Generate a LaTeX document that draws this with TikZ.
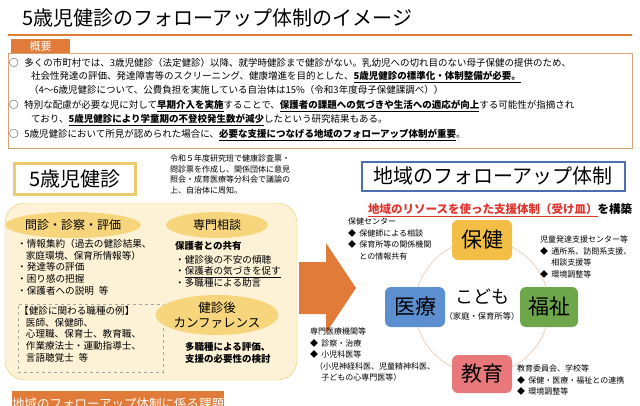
\documentclass[tikz,border=0pt]{standalone}
\usepackage{fontspec}
\setmainfont{Noto Sans CJK JP}
\usetikzlibrary{shapes,positioning}
\definecolor{daidai}{HTML}{E07B39}
\definecolor{waku}{HTML}{D9A070}
\definecolor{kiwaku}{HTML}{EBCB6E}
\definecolor{kiiro}{HTML}{FDF2D6}
\definecolor{daen}{HTML}{F6D57C}
\definecolor{aowaku}{HTML}{4F6EB0}
\definecolor{aka}{HTML}{E0342E}
\definecolor{hokeniro}{HTML}{F3BE45}
\definecolor{iryoiro}{HTML}{5B8FCF}
\definecolor{fukushiiro}{HTML}{6EA64B}
\definecolor{kyoikuiro}{HTML}{E9787A}
\definecolor{wairo}{HTML}{E6CDB8}
\tikzset{
    gaiyo/.style={anchor=west,inner sep=0pt,font=\fontsize{9.5}{11}\selectfont},
    chui/.style={anchor=north west,inner sep=0pt,align=left,font=\fontsize{9.6}{11.7}\selectfont},
    shou/.style={anchor=north west,inner sep=0pt,align=left,font=\fontsize{8}{11.5}\selectfont},
    oval/.style={ellipse,fill=daen,inner sep=0pt,font=\fontsize{12}{14}\selectfont},
    bunya/.style={rounded corners=6,minimum width=60,minimum height=40,inner sep=0pt,font=\fontsize{21}{24}\selectfont},
    midashi/.style={fill=daidai,text=white,inner sep=0pt}
}
\begin{document}
\begin{tikzpicture}[x=1pt,y=-1pt]
    \useasboundingbox[fill=white] (0,0) rectangle (640,405);

    \node[anchor=west,inner sep=0pt,font=\fontsize{20}{22}\selectfont] (title) at (22,18) {5歳児健診のフォローアップ体制のイメージ};
    \draw[daidai,line width=1.5] (8,35) -- (632,35);
    \node[midashi,minimum width=59,minimum height=14,font=\fontsize{11}{12}\selectfont] (gaiyotab) at (40.5,46) {概要};
    \draw[waku,line width=0.8] (8,53) rectangle (632,148);

    \node[gaiyo] (g1) at (9,63) {○\hspace{0.6em}多くの市町村では、3歳児健診（法定健診）以降、就学時健診まで健診がない。乳幼児への切れ目のない母子保健の提供のため、};
    \node[gaiyo] (g2) at (31,77) {社会性発達の評価、発達障害等のスクリーニング、健康増進を目的とした、\textbf{\underline{5歳児健診の標準化・体制整備が必要。}}};
    \node[gaiyo] (g3) at (29,90) {（4～6歳児健診について、公費負担を実施している自治体は15\%（令和3年度母子保健課調べ））};
    \node[gaiyo] (g4) at (9,106) {○\hspace{0.6em}特別な配慮が必要な児に対して\textbf{\underline{早期介入を実施}}することで、\textbf{\underline{保護者の課題への気づきや生活への適応が向上}}する可能性が指摘され};
    \node[gaiyo] (g5) at (31,120) {ており、\textbf{\underline{5歳児健診により学童期の不登校発生数が減少}}したという研究結果もある。};
    \node[gaiyo] (g6) at (9,135) {○\hspace{0.6em}5歳児健診において所見が認められた場合に、\textbf{\underline{必要な支援につなげる地域のフォローアップ体制が重要}}。};

    \node[draw=kiwaku,line width=3,fill=white,minimum width=121,minimum height=31,font=\fontsize{20}{22}\selectfont] (kenshin) at (75,179) {5歳児健診};
    \node[shou,font=\fontsize{8}{10.5}\selectfont] (tsuchi) at (170,155) {令和５年度研究班で健康診査票・\\問診票を作成し、関係団体に意見\\照会・成育医療等分科会で議論の\\上、自治体に周知。};

    \node[draw=kiwaku,fill=kiiro,rounded corners=20,minimum width=292,minimum height=177] (kbox) at (151,291.5) {};
    \node[oval,minimum width=112,minimum height=26] (monshin) at (73,225) {問診・診察・評価};
    \node[oval,minimum width=102,minimum height=26] (senmon) at (217,225) {専門相談};
    \node[chui] (naiyo) at (17,239) {・情報集約（過去の健診結果、\\\hspace{0.9em}家庭環境、保育所情報等）\\・発達等の評価\\・困り感の把握\\・保護者への説明\hspace{0.5em}等};
    \node[draw=gray!70,dashed,minimum width=145,minimum height=68] (shokushu) at (90.5,338) {};
    \node[chui] (rei) at (19,306) {【健診に関わる職種の例】\\\hspace{0.7em}医師、保健師、\\\hspace{0.7em}心理職、保育士、教育職、\\\hspace{0.7em}作業療法士・運動指導士、\\\hspace{0.7em}言語聴覚士\hspace{0.5em}等};
    \node[chui,font=\bfseries\fontsize{9.5}{12}\selectfont] (kyoyu) at (175,241) {保護者との共有};
    \node[chui] (kyoyulist) at (175,255) {・健診後の不安の傾聴\\・\underline{保護者の気づきを促す}\\・多職種による助言};
    \node[oval,minimum width=100,minimum height=40,align=center,font=\fontsize{12.5}{15.5}\selectfont] (conf) at (217,315) {健診後\\カンファレンス};
    \node[chui,font=\bfseries\fontsize{9.5}{12.5}\selectfont] (kento) at (185,342) {多職種による評価、\\支援の必要性の検討};

    \fill[daidai] (299,262) -- (326,262) -- (326,243) -- (356,288) -- (326,333) -- (326,314) -- (299,314) -- cycle;

    \node[draw=aowaku,line width=2,fill=white,minimum width=263,minimum height=29,font=\fontsize{20}{22}\selectfont] (chiiki) at (493,176) {地域のフォローアップ体制};
    \node[anchor=west,inner sep=0pt,font=\bfseries\fontsize{11.5}{13}\selectfont] (kochiku) at (368,210) {\textcolor{aka}{\underline{地域のリソースを使った支援体制（受け皿）}}を構築};

    \draw[wairo,line width=0.7] (482,307) circle (67);
    \node[bunya,fill=hokeniro] (hoken) at (482,240) {保健};
    \node[bunya,fill=iryoiro] (iryo) at (415,307) {医療};
    \node[bunya,fill=fukushiiro,minimum width=58] (fukushi) at (549,307) {福祉};
    \node[bunya,fill=kyoikuiro,minimum height=38] (kyoiku) at (482,374) {教育};
    \node[inner sep=0pt,font=\fontsize{18}{20}\selectfont] (kodomo) at (482,297) {こども};
    \node[inner sep=0pt,font=\fontsize{8.3}{10}\selectfont] (katei) at (482,316) {（家庭・保育所等）};

    \node[shou] (hokentxt) at (348,218) {保健センター\\◆\hspace{0.4em}保健師による相談\\◆\hspace{0.4em}保育所等の関係機関\\\hspace{1.4em}との情報共有};
    \node[shou] (fukushitxt) at (540,236) {児童発達支援センター等\\◆\hspace{0.4em}通所系、訪問系支援、\\\hspace{1.4em}相談支援等\\◆\hspace{0.4em}環境調整等};
    \node[shou] (iryotxt) at (310,328) {専門医療機関等\\◆\hspace{0.4em}診察・治療\\◆\hspace{0.4em}小児科医等\\\hspace{0.6em}（小児神経科医、児童精神科医、\\\hspace{1.4em}子どもの心専門医等）};
    \node[shou] (kyoikutxt) at (517,365) {教育委員会、学校等\\◆\hspace{0.4em}保健・医療・福祉との連携\\◆\hspace{0.4em}環境調整等};

    \node[midashi,anchor=north west,minimum width=184,minimum height=26,font=\fontsize{12.5}{14}\selectfont] (kadai) at (12,391) {地域のフォローアップ体制に係る課題};
\end{tikzpicture}
\end{document}
